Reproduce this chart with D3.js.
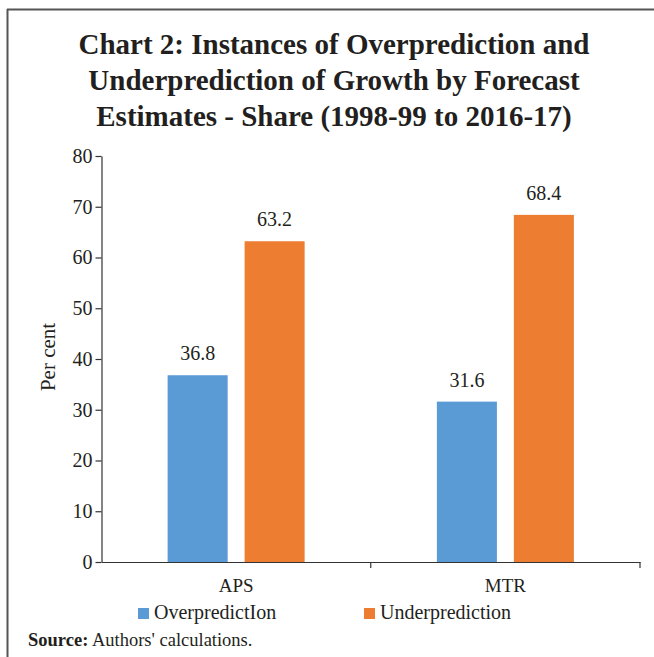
<!DOCTYPE html>
<html><head><meta charset="utf-8">
<script src="https://cdn.jsdelivr.net/npm/d3@7"></script>
<style>body{margin:0;background:#fff}svg{display:block}</style>
</head><body>
<script>
const categories = ["APS", "MTR"];
const seriesNames = ["OverpredictIon", "Underprediction"];
const overprediction = [36.8, 31.6];
const underprediction = [63.2, 68.4];
const yTicks = [0, 10, 20, 30, 40, 50, 60, 70, 80];
const colors = ["#5B9BD5", "#ED7D31"];
const titleLines = ["Chart 2: Instances of Overprediction and", "Underprediction of Growth by Forecast", "Estimates - Share (1998-99 to 2016-17)"];

const W = 654, H = 657;
const svg = d3.select("body").append("svg").attr("width", W).attr("height", H);
const serif = "'Liberation Serif', 'DejaVu Serif', serif";

// frame
svg.append("line").attr("x1", 7).attr("x2", W).attr("y1", 9.5).attr("y2", 9.5).attr("stroke", "#555").attr("stroke-width", 2);
svg.append("line").attr("x1", 7.5).attr("x2", 7.5).attr("y1", 9).attr("y2", H).attr("stroke", "#555").attr("stroke-width", 2);

// title
svg.append("g").selectAll("text").data(titleLines).join("text")
  .attr("x", 334).attr("y", (d, i) => 54 + i * 36)
  .attr("text-anchor", "middle").attr("font-family", serif).attr("font-weight", "bold")
  .attr("font-size", 29).attr("fill", "#231f20").text(d => d);

const plotLeft = 101.5, plotRight = 640, plotTop = 156, plotBottom = 562;
const y = d3.scaleLinear().domain([0, 80]).range([plotBottom, plotTop]);
const x0 = d3.scaleBand().domain(categories).range([plotLeft, plotRight]).padding(0);
const groupW = 137;
const x1 = d3.scaleBand().domain(seriesNames)
  .range([x0.bandwidth() / 2 - groupW / 2, x0.bandwidth() / 2 + groupW / 2]).paddingInner(0.22);

const data = categories.map((c, i) => ({ cat: c, vals: [overprediction[i], underprediction[i]] }));

const g = svg.append("g");
const groups = g.selectAll("g.cat").data(data).join("g").attr("class", "cat")
  .attr("transform", d => `translate(${x0(d.cat)},0)`);
groups.selectAll("rect").data(d => d.vals.map((v, j) => ({ s: seriesNames[j], v, j }))).join("rect")
  .attr("x", d => x1(d.s)).attr("width", x1.bandwidth())
  .attr("y", d => y(d.v)).attr("height", d => y(0) - y(d.v))
  .attr("fill", d => colors[d.j]);
groups.selectAll("text.val").data(d => d.vals.map((v, j) => ({ s: seriesNames[j], v, j }))).join("text")
  .attr("class", "val")
  .attr("x", d => x1(d.s) + x1.bandwidth() / 2).attr("y", d => y(d.v) - 15)
  .attr("text-anchor", "middle").attr("font-family", serif).attr("font-size", 20).attr("fill", "#231f20")
  .text(d => d3.format(".1f")(d.v));

// y axis
const yAxis = svg.append("g").attr("transform", `translate(${plotLeft},0)`)
  .call(d3.axisLeft(y).tickValues(yTicks).tickSize(6).tickSizeOuter(0));
yAxis.select(".domain").attr("stroke", "#333").attr("stroke-width", 1.2);
yAxis.selectAll(".tick line").attr("stroke", "#333").attr("stroke-width", 1.2);
yAxis.selectAll(".tick text").attr("font-family", serif).attr("font-size", 20).attr("fill", "#231f20").attr("x", -9);

// x axis
const xAxis = svg.append("g").attr("transform", `translate(0,${plotBottom})`)
  .call(d3.axisBottom(x0).tickSize(0).tickSizeOuter(0));
xAxis.select(".domain").attr("stroke", "#333").attr("stroke-width", 1.2);
xAxis.selectAll(".tick text").attr("font-family", serif).attr("font-size", 19).attr("fill", "#231f20").attr("dy", "1.4em");
// category boundary ticks
const bounds = categories.map(c => x0(c) + x0.bandwidth());
xAxis.selectAll("line.bound").data(bounds).join("line").attr("class", "bound")
  .attr("x1", d => d).attr("x2", d => d).attr("y1", 0).attr("y2", 6)
  .attr("stroke", "#333").attr("stroke-width", 1.2);

// y label
svg.append("text").attr("transform", "translate(55,357) rotate(-90)")
  .attr("text-anchor", "middle").attr("font-family", serif).attr("font-size", 21).attr("fill", "#231f20")
  .text("Per cent");

// legend
const legX = [138, 364];
const leg = svg.append("g").selectAll("g").data(seriesNames).join("g")
  .attr("transform", (d, i) => `translate(${legX[i]},608)`);
leg.append("rect").attr("width", 11).attr("height", 11).attr("fill", (d, i) => colors[i]);
leg.append("text").attr("x", 16).attr("y", 11).attr("font-family", serif).attr("font-size", 20)
  .attr("fill", "#231f20").text(d => d);

// source
const src = svg.append("text").attr("x", 28).attr("y", 646).attr("font-family", serif).attr("font-size", 18.5).attr("fill", "#231f20");
src.append("tspan").attr("font-weight", "bold").text("Source:");
src.append("tspan").text(" Authors' calculations.");
</script>
</body></html>
